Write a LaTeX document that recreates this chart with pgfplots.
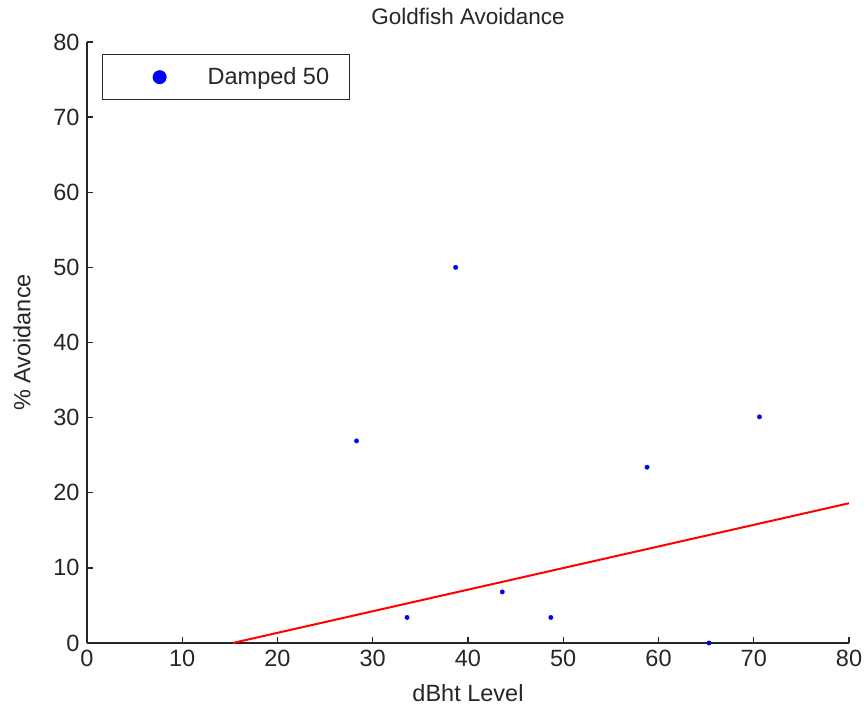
\documentclass[border=0pt]{standalone}
\usepackage{pgfplots}
\pgfplotsset{compat=1.18}
\usepackage{fontspec}
\setmainfont{Liberation Sans}

\pgfplotstableread{
x y
28.3 26.9
33.6 3.4
38.7 50.0
43.6 6.8
48.7 3.4
58.8 23.4
65.3 0.0
70.6 30.1
}\damped

\pgfplotstableread{
x y
15.3 0
80 18.6
}\fitline

\begin{document}
\begin{tikzpicture}
\begin{axis}[
  name=ax,
  scale only axis,
  width=762pt, height=601pt,
  xmin=0, xmax=80, ymin=0, ymax=80,
  xtick={0,10,...,80}, ytick={0,10,...,80},
  axis x line*=bottom, axis y line*=left,
  tick align=inside, major tick length=6pt,
  axis line style={line width=1.3pt, black!85},
  every tick/.style={line width=1.3pt, black!85},
  /pgf/number format/assume math mode=true,
  tick label style={font=\fontsize{23.5}{27}\selectfont, text=black!85},
  yticklabel style={xshift=-4pt},
  xticklabel style={yshift=-4pt},
  title={Goldfish Avoidance},
  title style={font=\fontsize{22.5}{26}\selectfont, text=black!85, at={(axis description cs:0.5,1)}, anchor=center, yshift=20pt},
  xlabel={dBht Level},
  xlabel style={font=\fontsize{23.5}{27}\selectfont, text=black!85, at={(axis description cs:0.5,0)}, anchor=center, yshift=-50pt},
  ylabel={\% Avoidance},
  ylabel style={font=\fontsize{23.5}{27}\selectfont, text=black!85, at={(axis description cs:-0.0853,0.5)}, anchor=center},
  clip=false,
  legend cell align=left,
  legend style={at={(axis description cs:0.0197,0.98)}, anchor=north west,
    draw=black!85, line width=1.3pt, inner xsep=0pt, inner ysep=0pt,
    font=\fontsize{23.5}{27}\selectfont,
    nodes={inner xsep=0pt, inner ysep=0pt, text=black!85},
    /tikz/every even column/.append style={column sep=0pt}},
  legend image code/.code={
    \path[draw=none, fill=none] (0pt,-22.5pt) rectangle (105pt,22.5pt);
    \fill[blue, draw=none] (57pt,0pt) circle (7pt);
  },
]
\addplot[only marks, mark=*, mark size=2.2pt, blue, mark options={draw=none, fill=blue}] table[x=x,y=y] {\damped};
\addlegendentry{\makebox[142pt][l]{Damped 50}}
\addplot[red, line width=2pt, forget plot] table[x=x,y=y] {\fitline};
\coordinate (O) at (rel axis cs:0,0);
\coordinate (T) at (rel axis cs:1,1);
\end{axis}
\pgfresetboundingbox
\path[use as bounding box] ([shift={(-87pt,-70pt)}]O) rectangle ([shift={(19pt,42pt)}]T);
\end{tikzpicture}
\end{document}
